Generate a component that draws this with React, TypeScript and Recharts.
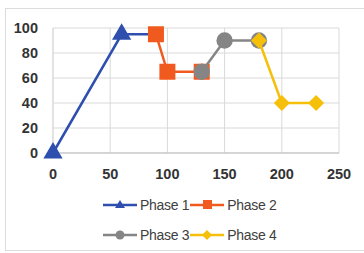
import { ScatterChart, Scatter, XAxis, YAxis, CartesianGrid, Symbols } from 'recharts';

// phase data
const phase1 = [
  { x: 0, y: 0 },
  { x: 60, y: 95 },
  { x: 90, y: 95 },
];
const phase2 = [
  { x: 90, y: 95 },
  { x: 100, y: 65 },
  { x: 130, y: 65 },
];
const phase3 = [
  { x: 130, y: 65 },
  { x: 150, y: 90 },
  { x: 180, y: 90 },
];
const phase4 = [
  { x: 180, y: 90 },
  { x: 200, y: 40 },
  { x: 230, y: 40 },
];

const xTicks = [0, 50, 100, 150, 200, 250];
const yTicks = [0, 20, 40, 60, 80, 100];

type Shape = 'triangle' | 'square' | 'circle' | 'diamond';

interface Series {
  name: string;
  data: { x: number; y: number }[];
  color: string;
  shape: Shape;
  size: number;
  hideLast?: boolean;
}

const series: Series[] = [
  { name: 'Phase 1', data: phase1, color: '#2f4fae', shape: 'triangle', size: 160, hideLast: true },
  { name: 'Phase 2', data: phase2, color: '#f05a1e', shape: 'square', size: 256 },
  { name: 'Phase 3', data: phase3, color: '#858585', shape: 'circle', size: 210 },
  { name: 'Phase 4', data: phase4, color: '#f6bf0a', shape: 'diamond', size: 8 },
];

const FONT = '"Liberation Sans", Arial, sans-serif';

function renderMarker(s: Series) {
  return (p: any) => {
    if (s.hideLast && p.index === s.data.length - 1) return <g />;
    if (s.shape === 'diamond') {
      const r = s.size;
      return (
        <polygon
          points={`${p.cx},${p.cy - r} ${p.cx + r},${p.cy} ${p.cx},${p.cy + r} ${p.cx - r},${p.cy}`}
          fill={s.color}
        />
      );
    }
    return <Symbols cx={p.cx} cy={p.cy} type={s.shape} size={s.size} fill={s.color} />;
  };
}

function LegendIcon({ color, shape }: { color: string; shape: string }) {
  let marker;
  if (shape === 'triangle') marker = <polygon points="17,2 22,10 12,10" fill={color} />;
  else if (shape === 'square') marker = <rect x={13} y={2} width={9} height={9} fill={color} />;
  else if (shape === 'circle') marker = <circle cx={17} cy={7} r={4.5} fill={color} />;
  else marker = <polygon points="17,2 22,7 17,12 12,7" fill={color} />;
  return (
    <svg width={34} height={14} style={{ display: 'block' }}>
      <line x1={0} y1={7} x2={34} y2={7} stroke={color} strokeWidth={2.5} />
      {marker}
    </svg>
  );
}

function ChartLegend() {
  const rows = [series.slice(0, 2), series.slice(2, 4)];
  return (
    <div style={{ position: 'absolute', left: 103, top: 190, fontFamily: FONT, fontSize: 14, color: '#404040' }}>
      {rows.map((row, i) => (
        <div key={i} style={{ display: 'flex', alignItems: 'center', height: 30 }}>
          {row.map((s) => (
            <div key={s.name} style={{ display: 'flex', alignItems: 'center' }}>
              <LegendIcon color={s.color} shape={s.shape} />
              <span style={{ margin: '0 1px 0 3px', letterSpacing: -0.3 }}>{s.name}</span>
            </div>
          ))}
        </div>
      ))}
    </div>
  );
}

export default function App() {
  return (
    <div style={{ position: 'absolute', left: 0, top: 0, width: 364, height: 253, background: '#fff' }}>
      <div
        style={{
          position: 'absolute',
          left: 5,
          top: 8,
          width: 370,
          height: 243,
          border: '1px solid #dcdcdc',
          boxSizing: 'border-box',
        }}
      />
      <div style={{ position: 'absolute', left: 0, top: 0 }}>
        <ScatterChart width={364} height={253} margin={{ top: 28, right: 25, bottom: 70, left: 0 }}>
          <CartesianGrid stroke="#d9d9d9" />
          <XAxis
            type="number"
            dataKey="x"
            domain={[0, 250]}
            ticks={xTicks}
            tickLine={false}
            axisLine={{ stroke: '#bfbfbf' }}
            tickMargin={10}
            height={30}
            tick={{ fill: '#333', fontSize: 14.5, fontFamily: FONT, fontWeight: 600 }}
          />
          <YAxis
            type="number"
            dataKey="y"
            domain={[0, 100]}
            ticks={yTicks}
            tickLine={false}
            axisLine={{ stroke: '#d9d9d9' }}
            tickMargin={9}
            width={53}
            tick={{ fill: '#333', fontSize: 14.5, fontFamily: FONT, fontWeight: 600 }}
          />
          {series.map((s) => (
            <Scatter
              key={s.name}
              name={s.name}
              data={s.data}
              fill={s.color}
              shape={renderMarker(s)}
              line={{ stroke: s.color, strokeWidth: 2.5 }}
              isAnimationActive={false}
            />
          ))}
        </ScatterChart>
      </div>
      <ChartLegend />
    </div>
  );
}
